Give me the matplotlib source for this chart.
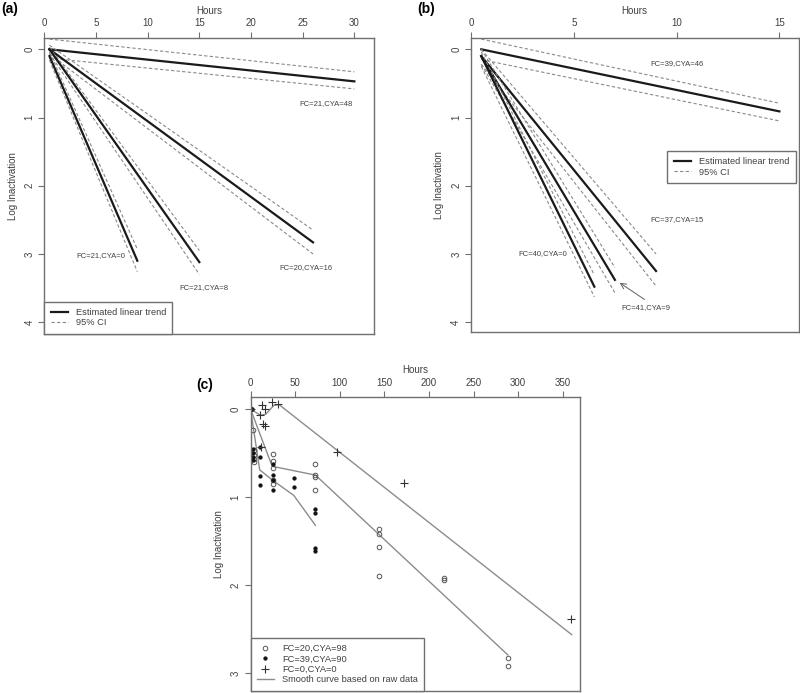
import numpy as np
import matplotlib
matplotlib.use("Agg")
import matplotlib.pyplot as plt

plt.rcParams['font.family'] = ['Liberation Sans', 'DejaVu Sans']

# ---- panel (a): fitted linear trends with 95% CI ----
a_labels = ["FC=21,CYA=48", "FC=20,CYA=16", "FC=21,CYA=8", "FC=21,CYA=0"]
a_x_start = [0.5, 0.5, 0.5, 0.5]
a_x_end = [30, 26, 15, 9]
a_fit_start = [0.0, 0.0, 0.0, 0.1]
a_fit_end = [0.47, 2.83, 3.12, 3.10]
a_ci_lo_start = [-0.15, -0.06, -0.03, 0.04]
a_ci_lo_end = [0.33, 2.65, 2.95, 2.93]
a_ci_hi_start = [0.13, 0.07, 0.06, 0.16]
a_ci_hi_end = [0.58, 3.00, 3.30, 3.26]
a_label_x = [27.3, 25.3, 15.4, 5.5]
a_label_y = [0.80, 3.20, 3.50, 3.02]

# ---- panel (b) ----
b_labels = ["FC=39,CYA=46", "FC=37,CYA=15", "FC=41,CYA=9", "FC=40,CYA=0"]
b_x_start = [0.5, 0.5, 0.5, 0.5]
b_x_end = [15, 9, 7, 6]
b_fit_start = [0.0, 0.1, 0.1, 0.1]
b_fit_end = [0.91, 3.25, 3.38, 3.48]
b_ci_lo_start = [-0.15, 0.0, 0.0, 0.04]
b_ci_lo_end = [0.79, 3.00, 3.20, 3.31]
b_ci_hi_start = [0.15, 0.22, 0.22, 0.25]
b_ci_hi_end = [1.05, 3.47, 3.57, 3.63]
b_label_x = [10.0, 10.0, 8.5, 3.47]
b_label_y = [0.21, 2.49, 3.79, 3.00]

# ---- panel (c): raw data and smooth curves ----
c98_hours = [0, 3, 4, 4, 4, 4, 25, 25, 25, 25, 25, 72.8, 72.8, 72.8, 72.8,
             144.4, 144.4, 144.4, 144.4, 216.4, 216.4, 288.4, 288.4]
c98_log = [0.0, 0.24, 0.47, 0.52, 0.57, 0.60, 0.51, 0.59, 0.67, 0.81, 0.85,
           0.62, 0.75, 0.77, 0.92, 1.36, 1.42, 1.57, 1.89, 1.92, 1.94, 2.83, 2.92]
c90_hours = [2, 3, 3, 3, 3, 10.5, 10.5, 10.5, 10.5, 25, 25, 25, 25,
             49.2, 49.2, 72.8, 72.8, 72.8, 72.8]
c90_log = [0.0, 0.45, 0.50, 0.55, 0.58, 0.43, 0.54, 0.76, 0.86, 0.62, 0.75,
           0.80, 0.92, 0.78, 0.88, 1.13, 1.18, 1.58, 1.61]
c0_hours = [0, 11.2, 13, 15.7, 14.2, 16, 24.3, 30.6, 11.5, 97, 172.4, 359.3]
c0_log = [0.0, 0.07, -0.05, 0.0, 0.17, 0.19, -0.08, -0.06, 0.43, 0.49, 0.84, 2.38]

s98_hours = [0, 24.3, 72.8, 288.4]
s98_log = [0.0, 0.65, 0.75, 2.79]
s90_hours = [0, 10.3, 25, 48.5, 72.8]
s90_log = [0.0, 0.69, 0.81, 0.98, 1.32]
s0_hours = [0, 11, 17, 26, 32, 360]
s0_log = [0.0, 0.07, 0.06, -0.04, -0.05, 2.56]

W, H = 800, 693
fig = plt.figure(figsize=(W / 100, H / 100), dpi=100)

spine_col = '#707070'
text_col = '#404040'


def px_axes(left, top, right, bottom):
    return fig.add_axes([left / W, 1 - bottom / H, (right - left) / W, (bottom - top) / H])


def style_axes(ax, xlim, ylim, xticks, yticks):
    ax.set_xlim(*xlim)
    ax.set_ylim(ylim[1], ylim[0])
    ax.xaxis.tick_top()
    ax.xaxis.set_label_position('top')
    ax.set_xticks(xticks)
    ax.set_yticks(yticks)
    ax.set_yticklabels([str(t) for t in yticks], rotation=90, va='center')
    ax.tick_params(axis='both', direction='out', length=4, width=0.8, colors=spine_col,
                   labelcolor=text_col, labelsize=7, pad=3)
    for s in ax.spines.values():
        s.set_color(spine_col)
        s.set_linewidth(1.0)
    ax.set_xlabel('Hours', fontsize=7, color=text_col, labelpad=3)
    ax.set_ylabel('Log Inactivation', fontsize=7, color=text_col, labelpad=5)


def draw_trends(ax, xs, xe, fs, fe, los, loe, his, hie):
    for i in range(len(xs)):
        ax.plot([xs[i], xe[i]], [los[i], loe[i]], color='#8a8a8a', lw=0.8, ls=(0, (3, 2)))
        ax.plot([xs[i], xe[i]], [his[i], hie[i]], color='#8a8a8a', lw=0.8, ls=(0, (3, 2)))
        ax.plot([xs[i], xe[i]], [fs[i], fe[i]], color='#1a1a1a', lw=1.6)


def legend_box(ax, handles, labels, **kw):
    leg = ax.legend(handles, labels, fontsize=6.7, frameon=True, fancybox=False,
                    framealpha=1, edgecolor=spine_col, handlelength=1.8,
                    handletextpad=0.86, borderpad=0.7, labelspacing=0.15,
                    borderaxespad=0, **kw)
    leg.get_frame().set_linewidth(1.0)
    for t in leg.get_texts():
        t.set_color(text_col)
    return leg


# panel (a)
ax_a = px_axes(44.3, 38, 374, 334)
style_axes(ax_a, (0, 31.9), (-0.166, 4.174), [0, 5, 10, 15, 20, 25, 30], [0, 1, 2, 3, 4])
draw_trends(ax_a, a_x_start, a_x_end, a_fit_start, a_fit_end,
            a_ci_lo_start, a_ci_lo_end, a_ci_hi_start, a_ci_hi_end)
for lab, x, y in zip(a_labels, a_label_x, a_label_y):
    ax_a.text(x, y, lab, fontsize=5.5, color=text_col, ha='center', va='center')
h_fit, = ax_a.plot([], [], color='#1a1a1a', lw=1.6)
h_ci, = ax_a.plot([], [], color='#8a8a8a', lw=0.8, ls=(0, (3, 2)))
legend_box(ax_a, [h_fit, h_ci], ['Estimated linear trend', '95% CI'],
           loc='lower left', bbox_to_anchor=(0, 0))

# panel (b)
ax_b = px_axes(471, 38, 798.5, 331.7)
style_axes(ax_b, (0, 15.93), (-0.166, 4.14), [0, 5, 10, 15], [0, 1, 2, 3, 4])
draw_trends(ax_b, b_x_start, b_x_end, b_fit_start, b_fit_end,
            b_ci_lo_start, b_ci_lo_end, b_ci_hi_start, b_ci_hi_end)
for lab, x, y in zip(b_labels, b_label_x, b_label_y):
    ax_b.text(x, y, lab, fontsize=5.5, color=text_col, ha='center', va='center')
ax_b.annotate('', xy=(b_x_end[2] + 0.12, b_fit_end[2] + 0.02),
              xytext=(b_label_x[2] + 0.05, b_label_y[2] - 0.1),
              arrowprops=dict(arrowstyle='->', color='#606060', lw=0.7))
h_fit, = ax_b.plot([], [], color='#1a1a1a', lw=1.6)
h_ci, = ax_b.plot([], [], color='#8a8a8a', lw=0.8, ls=(0, (3, 2)))
legend_box(ax_b, [h_fit, h_ci], ['Estimated linear trend', '95% CI'],
           loc='upper right', bbox_to_anchor=(0.991, 0.616))

# panel (c)
ax_c = px_axes(250.5, 397.3, 580.3, 691)
style_axes(ax_c, (0, 369.7), (-0.133, 3.2), [0, 50, 100, 150, 200, 250, 300, 350], [0, 1, 2, 3])
ax_c.plot(s98_hours, s98_log, color='#8c8c8c', lw=1.0)
ax_c.plot(s90_hours, s90_log, color='#8c8c8c', lw=1.0)
ax_c.plot(s0_hours, s0_log, color='#8c8c8c', lw=1.0)
p98, = ax_c.plot(c98_hours, c98_log, ls='none', marker='o', ms=3.3, mfc='none',
                 mec='#555555', mew=0.7)
p90, = ax_c.plot(c90_hours, c90_log, ls='none', marker='o', ms=2.7, mfc='#111111',
                 mec='#111111', mew=0.3)
p0, = ax_c.plot(c0_hours, c0_log, ls='none', marker='+', ms=6, mec='#333333', mew=0.8)
h_s, = ax_c.plot([], [], color='#8c8c8c', lw=1.0)
legend_box(ax_c, [p98, p90, p0, h_s],
           ['FC=20,CYA=98', 'FC=39,CYA=90', 'FC=0,CYA=0', 'Smooth curve based on raw data'],
           loc='lower left', bbox_to_anchor=(0, 0))

# panel tags
fig.text(1 / W, 1 - 9 / H, '(a)', fontsize=10, fontweight='bold', va='center', ha='left')
fig.text(417 / W, 1 - 9 / H, '(b)', fontsize=10, fontweight='bold', va='center', ha='left')
fig.text(196 / W, 1 - 385 / H, '(c)', fontsize=10, fontweight='bold', va='center', ha='left')

fig.savefig('out.png', dpi=100)
